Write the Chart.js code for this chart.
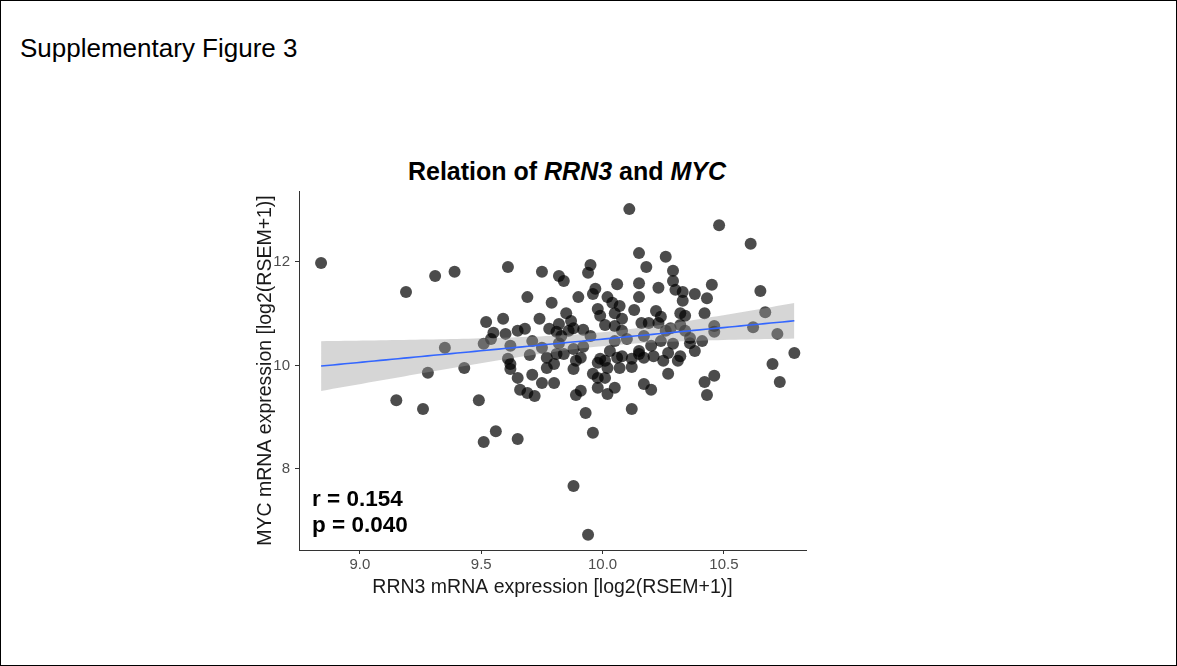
<!DOCTYPE html>
<html>
<head>
<meta charset="utf-8">
<script src="https://cdn.jsdelivr.net/npm/chart.js@4"></script>
<style>
html, body { margin: 0; padding: 0; background: #fff; }
#page { position: relative; width: 1177px; height: 666px; box-sizing: border-box; border: 1px solid #000; font-family: "Liberation Sans", Arial, sans-serif; overflow: hidden; }
#figLabel { position: absolute; left: 19px; top: 32px; font-size: 26px; color: #000; }
#plotTitle { position: absolute; left: 300px; width: 532px; top: 156px; text-align: center; font-weight: bold; font-size: 25px; color: #000; }
#stats { position: absolute; left: 311px; top: 485px; font-weight: bold; font-size: 22.5px; line-height: 26px; color: #000; }
#chartBox { position: absolute; left: 240px; top: 176px; }
</style>
</head>
<body>
<div id="page">
  <div id="figLabel">Supplementary Figure 3</div>
  <div id="plotTitle">Relation of <i>RRN3</i> and <i>MYC</i></div>
  <div id="chartBox"><canvas id="chartRelacion" width="580" height="422"></canvas></div>
  <div id="stats">r = 0.154<br>p = 0.040</div>
</div>
<script>
// Datos
const rrn3 = [
  8.84, 9.19, 9.31, 9.39, 9.35, 9.28, 9.43, 9.15, 9.26, 9.49,
  9.56, 9.51, 9.65, 9.88, 9.94, 9.93, 9.96, 9.61, 9.75, 9.82,
  9.84, 9.95, 9.94, 9.69, 9.79, 9.90, 9.97, 9.96, 9.98, 9.52,
  9.59, 9.74, 9.55, 9.60, 9.65, 9.68, 9.78, 9.82, 9.87, 9.88,
  9.92, 9.81, 9.86, 10.11, 10.48, 10.61, 10.15, 10.26, 10.18, 10.29,
  10.29, 10.15, 10.23, 10.30, 10.33, 10.33, 10.38, 10.43, 10.45, 10.15,
  10.65, 10.67, 10.42, 10.46, 10.46, 10.62, 10.72, 10.79, 10.70, 10.13,
  10.06, 10.02, 10.04, 10.07, 10.05, 10.08, 10.24, 10.32, 10.34, 10.01,
  10.05, 10.16, 10.19, 10.23, 10.28, 10.32, 10.36, 10.17, 9.99, 10.36,
  10.29, 10.24, 10.03, 10.08, 10.12, 10.15, 10.17, 10.21, 10.25, 10.27,
  10.31, 10.32, 10.01, 10.07, 10.02, 10.01, 10.05, 10.02, 10.27, 10.17,
  10.20, 10.12, 10.42, 10.46, 10.43, 10.73, 10.12, 9.99, 10.15, 9.61,
  9.62, 9.65, 9.70, 9.71, 9.66, 9.69, 9.72, 9.75, 9.80, 9.77,
  9.77, 9.81, 9.84, 9.88, 9.89, 9.88, 9.92, 9.96, 9.98, 9.98,
  9.91, 9.89, 9.51, 9.54, 9.62, 9.75, 9.82, 9.62, 9.98, 10.06,
  9.91, 9.80, 9.83, 9.95, 10.10, 10.20, 10.41, 10.05, 9.71, 10.22,
  10.08, 10.38, 9.85, 10.26, 10.34
];
const myc = [
  11.98, 11.42, 11.73, 11.81, 10.34, 9.86, 9.95, 9.33, 9.16, 9.33,
  8.73, 8.52, 8.58, 7.67, 6.73, 9.08, 8.70, 11.90, 11.81, 11.73,
  11.63, 11.94, 11.79, 11.32, 11.21, 11.32, 11.48, 11.38, 11.09, 10.84,
  10.90, 10.90, 10.63, 10.61, 10.67, 10.71, 10.71, 10.80, 10.86, 10.72,
  10.69, 10.65, 10.67, 13.02, 12.71, 12.35, 12.17, 12.10, 11.90, 11.83,
  11.63, 11.59, 11.50, 11.46, 11.42, 11.25, 11.38, 11.30, 11.56, 11.32,
  11.44, 11.03, 11.01, 10.76, 10.65, 10.74, 10.61, 10.24, 10.03, 11.07,
  11.57, 11.32, 11.21, 11.15, 11.01, 10.90, 10.94, 11.01, 10.96, 10.78,
  10.76, 10.82, 10.82, 10.82, 10.72, 10.78, 10.53, 10.57, 10.96, 10.43,
  10.42, 10.47, 10.28, 10.18, 10.13, 10.28, 10.15, 10.18, 10.09, 10.24,
  10.09, 10.18, 10.09, 9.95, 9.95, 9.76, 9.57, 9.45, 9.84, 9.64,
  9.53, 9.16, 9.68, 9.80, 9.43, 9.68, 9.97, 10.13, 10.22, 10.13,
  9.93, 9.76, 10.20, 9.82, 9.53, 9.47, 9.41, 9.66, 9.66, 9.95,
  10.15, 10.22, 10.22, 10.32, 10.09, 9.93, 10.36, 9.84, 9.76, 9.57,
  9.51, 9.43, 10.42, 10.51, 10.38, 10.34, 10.43, 10.03, 10.05, 10.15,
  10.15, 10.03, 10.57, 10.57, 10.51, 10.38, 10.47, 10.47, 10.47, 11.05,
  10.67, 10.28, 11.01, 10.67, 10.67
];
const xTicks = [9.0, 9.5, 10.0, 10.5];
const yTicks = [8, 10, 12];
const xMin = 8.749, xMax = 10.838;
const yMin = 6.435, yMax = 13.37;

// Ajuste lineal con banda de confianza del 95%
const n = rrn3.length;
const mx = rrn3.reduce((a, b) => a + b, 0) / n;
const my = myc.reduce((a, b) => a + b, 0) / n;
let sxx = 0, sxy = 0;
for (let i = 0; i < n; i++) {
    sxx += (rrn3[i] - mx) * (rrn3[i] - mx);
    sxy += (rrn3[i] - mx) * (myc[i] - my);
}
const pendiente = sxy / sxx;
const intercepto = my - pendiente * mx;
let sse = 0;
for (let i = 0; i < n; i++) {
    const r = myc[i] - (intercepto + pendiente * rrn3[i]);
    sse += r * r;
}
const s = Math.sqrt(sse / (n - 2));
const tCrit = 1.974;
const x0 = Math.min(...rrn3), x1 = Math.max(...rrn3);
const lineaAjuste = [], bandaSup = [], bandaInf = [];
for (let k = 0; k <= 80; k++) {
    const xv = x0 + (x1 - x0) * k / 80;
    const yv = intercepto + pendiente * xv;
    const se = s * Math.sqrt(1 / n + (xv - mx) * (xv - mx) / sxx);
    lineaAjuste.push({ x: xv, y: yv });
    bandaSup.push({ x: xv, y: yv + tCrit * se });
    bandaInf.push({ x: xv, y: yv - tCrit * se });
}
const puntos = rrn3.map((v, i) => ({ x: v, y: myc[i] }));

const ctx = document.getElementById('chartRelacion').getContext('2d');
new Chart(ctx, {
    type: 'scatter',
    data: {
        datasets: [
            {
                data: lineaAjuste,
                showLine: true,
                borderColor: '#3366FF',
                borderWidth: 1.6,
                pointRadius: 0,
                fill: false
            },
            {
                data: bandaSup,
                showLine: true,
                borderWidth: 0,
                borderColor: 'rgba(0,0,0,0)',
                pointRadius: 0,
                backgroundColor: 'rgba(153,153,153,0.4)',
                fill: '+1'
            },
            {
                data: bandaInf,
                showLine: true,
                borderWidth: 0,
                borderColor: 'rgba(0,0,0,0)',
                pointRadius: 0,
                fill: false
            },
            {
                data: puntos,
                pointRadius: 6,
                pointBackgroundColor: 'rgba(0,0,0,0.7)',
                pointBorderWidth: 0
            }
        ]
    },
    options: {
        responsive: false,
        animation: false,
        layout: { padding: { top: 0, right: 15, left: 0, bottom: 0 } },
        plugins: { legend: { display: false }, tooltip: { enabled: false } },
        scales: {
            x: {
                type: 'linear',
                min: xMin,
                max: xMax,
                afterBuildTicks: (sc) => { sc.ticks = xTicks.map(v => ({ value: v })); },
                afterFit: (sc) => { sc.height = 49; },
                ticks: {
                    callback: (v) => Number(v).toFixed(1),
                    color: '#4d4d4d',
                    font: { family: 'Liberation Sans', size: 15 },
                    padding: 2,
                    maxRotation: 0
                },
                grid: { drawOnChartArea: false, drawTicks: true, tickLength: 4, color: '#333' },
                border: { display: true, color: '#333', width: 1 },
                title: {
                    display: true,
                    text: 'RRN3 mRNA expression [log2(RSEM+1)]',
                    color: '#1a1a1a',
                    font: { family: 'Liberation Sans', size: 19.5 },
                    padding: { top: 0, bottom: 0 }
                }
            },
            y: {
                type: 'linear',
                min: yMin,
                max: yMax,
                afterBuildTicks: (sc) => { sc.ticks = yTicks.map(v => ({ value: v })); },
                afterFit: (sc) => { sc.width = 58; },
                ticks: {
                    color: '#4d4d4d',
                    font: { family: 'Liberation Sans', size: 15 },
                    padding: 5
                },
                grid: { drawOnChartArea: false, drawTicks: true, tickLength: 4, color: '#333' },
                border: { display: true, color: '#333', width: 1 },
                title: {
                    display: true,
                    text: 'MYC mRNA expression [log2(RSEM+1)]',
                    color: '#1a1a1a',
                    font: { family: 'Liberation Sans', size: 19.5 },
                    padding: { top: 13, bottom: 0 }
                }
            }
        }
    }
});
</script>
</body>
</html>
